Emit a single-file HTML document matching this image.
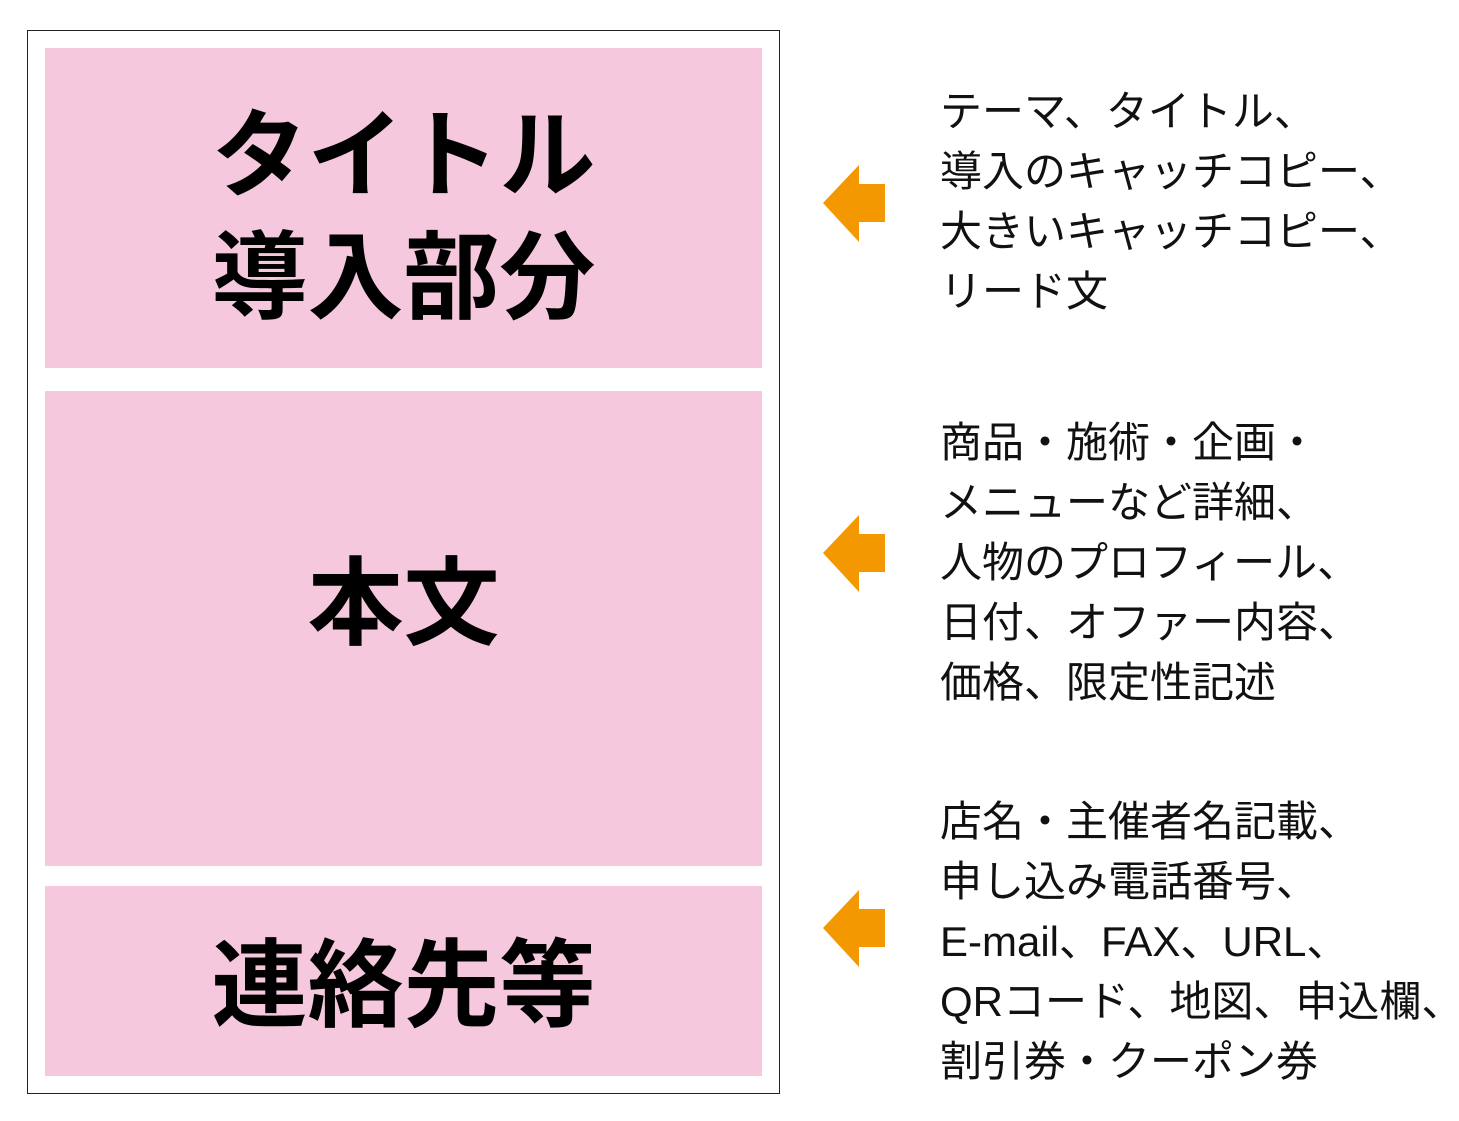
<!DOCTYPE html>
<html><head><meta charset="utf-8"><style>
body{margin:0;width:1459px;height:1121px;background:#fff;position:relative;overflow:hidden;font-family:"Liberation Sans","Noto Sans CJK JP",sans-serif}
.frame{position:absolute;left:27px;top:30px;width:751px;height:1062px;border:1px solid #222}
.p{position:absolute;left:45px;width:717px;background:#f5c8dd}
.big{position:absolute;left:45px;width:717px;text-align:center;font-family:"Noto Sans CJK JP",sans-serif;font-weight:700;font-size:96px;line-height:120px;color:#000}
.t{position:absolute;left:940px;font-family:"Liberation Sans","Noto Sans CJK JP",sans-serif;font-size:42px;line-height:60px;color:#111;white-space:nowrap}
svg{position:absolute;left:0;top:0}
</style></head><body>
<div class="frame"></div>
<div class="p" style="top:48px;height:320px"></div>
<div class="p" style="top:391px;height:475px"></div>
<div class="p" style="top:886px;height:190px"></div>
<div class="big" style="top:88px">タイトル</div>
<div class="big" style="top:210px">導入部分</div>
<div class="big" style="top:536px">本文</div>
<div class="big" style="top:918px">連絡先等</div>
<svg width="1459" height="1121">
<g fill="#f39800">
<polygon points="823,203 859,165 859,184 885,184 885,222 859,222 859,242"/>
<polygon points="823,553 859,515 859,534 885,534 885,572 859,572 859,592"/>
<polygon points="823,928 859,890 859,909 885,909 885,947 859,947 859,967"/>
</g></svg>
<div class="t" style="top:82px">テーマ、タイトル、<br>導入のキャッチコピー、<br>大きいキャッチコピー、<br>リード文</div>
<div class="t" style="top:413px">商品・施術・企画・<br>メニューなど詳細、<br>人物のプロフィール、<br>日付、オファー内容、<br>価格、限定性記述</div>
<div class="t" style="top:792px">店名・主催者名記載、<br>申し込み電話番号、<br>E-mail、FAX、URL、<br>QRコード、地図、申込欄、<br>割引券・クーポン券</div>
</body></html>
